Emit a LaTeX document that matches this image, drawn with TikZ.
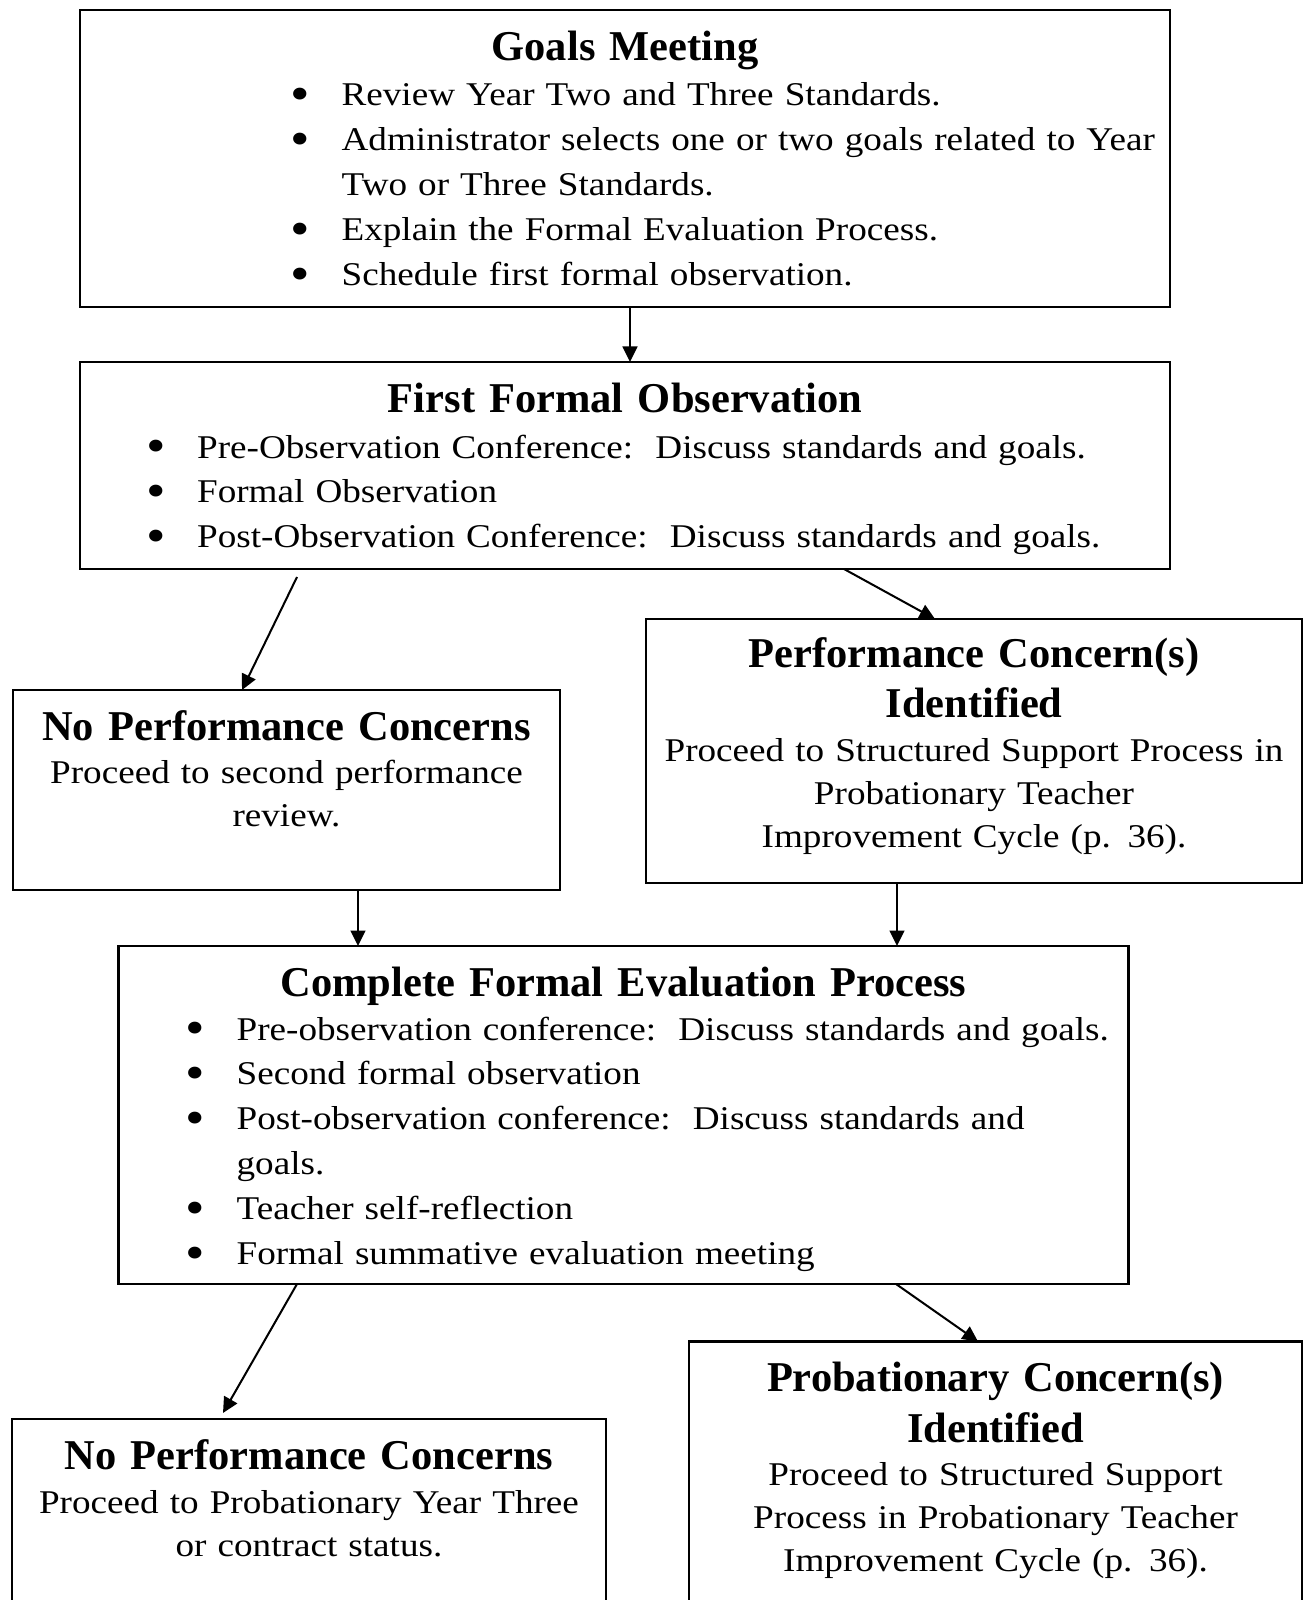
\documentclass[tikz,border=0pt]{standalone}
\usepackage{fontspec}
\setmainfont{Liberation Serif}
\newfontfamily\bodyfont{Liberation Serif}[FakeStretch=1.12]
\usetikzlibrary{arrows.meta,calc,fit}
\newcommand\bul{\leavevmode\llap{\raisebox{-1.5pt}{\fontsize{16}{0}\selectfont\textbullet}\hspace{10.1pt}}}

\begin{document}
\begin{tikzpicture}[x=0.3225pt,y=-0.3225pt,
    box/.style={draw,line width=0.7pt,inner sep=0pt,outer sep=0pt},
    head/.style={font={\fontsize{13.7}{16.3}\selectfont\bfseries},text width=260pt,align=center,anchor=base,inner sep=0pt},
    body/.style={font={\bodyfont\fontsize{10.7}{14}\selectfont},text width=250pt,align=center,anchor=base,inner sep=0pt},
    items/.style={font={\bodyfont\fontsize{10.7}{14.5}\selectfont},text width=300pt,align=left,anchor=base west,inner sep=0pt},
    arr/.style={-{Triangle[length=5pt,width=4.8pt]},line width=0.65pt}]
  \useasboundingbox (0,0) rectangle (1304,1600);
  % boxes
  \node[box,fit={(80,10)(1170,307)}] (goals) {};
  \node[box,fit={(80,362)(1170,569)}] (first) {};
  \node[box,fit={(13,690)(560,890)}] (noperf1) {};
  \node[box,fit={(646,619)(1302,883)}] (perf) {};
  \node[box,fit={(118.5,946)(1128.5,1284)}] (complete) {};
  \node[box,fit={(12,1419)(606,1660)}] (noperf2) {};
  \node[box,fit={(689,1341.5)(1302,1660)}] (prob) {};
  % texts
  \node[head] (goalshead) at ($(goals.north)+(0,51)$) {Goals Meeting};
  \node[items] (goalslist) at ($(goals.north west)+(261,96)$) {\bul Review Year Two and Three Standards.\\
    \bul Administrator selects one or two goals related to Year\\
    Two or Three Standards.\\
    \bul Explain the Formal Evaluation Process.\\
    \bul Schedule first formal observation.};
  \node[head] (firsthead) at ($(first.north)+(0,51)$) {First Formal Observation};
  \node[items] (firstlist) at ($(first.north west)+(116.5,96)$) {\bul Pre-Observation Conference:\ \ Discuss standards and goals.\\
    \bul Formal Observation\\
    \bul Post-Observation Conference:\ \ Discuss standards and goals.};
  \node[head] (noperf1head) at ($(noperf1.north)+(0,50)$) {No Performance Concerns};
  \node[body] (noperf1body) at ($(noperf1.north)+(0,93)$) {Proceed to second performance\\review.};
  \node[head] (perfhead) at ($(perf.north)+(0,48)$) {Performance Concern(s)\\Identified};
  \node[body] (perfbody) at ($(perf.north)+(0,142)$) {Proceed to Structured Support Process in\\Probationary Teacher\\Improvement Cycle (p. 36).};
  \node[head] (completehead) at ($(complete.north)+(0,50)$) {Complete Formal Evaluation Process};
  \node[items] (completelist) at ($(complete.north west)+(117.5,94)$) {\bul Pre-observation conference:\ \ Discuss standards and goals.\\
    \bul Second formal observation\\
    \bul Post-observation conference:\ \ Discuss standards and\\
    goals.\\
    \bul Teacher self-reflection\\
    \bul Formal summative evaluation meeting};
  \node[head] (noperf2head) at ($(noperf2.north)+(0,50)$) {No Performance Concerns};
  \node[body] (noperf2body) at ($(noperf2.north)+(0,94)$) {Proceed to Probationary Year Three\\or contract status.};
  \node[head] (probhead) at ($(prob.north)+(0,50)$) {Probationary Concern(s)\\Identified};
  \node[body] (probbody) at ($(prob.north)+(0,143.5)$) {Proceed to Structured Support\\Process in Probationary Teacher\\Improvement Cycle (p. 36).};
  % arrows
  \draw[arr] ($(goals.south west)+(550,0)$) coordinate (a1) -- (a1 |- first.north);
  \draw[arr] ($(first.south west)+(217,8)$) -- ($(noperf1.north west)+(229,0)$);
  \draw[arr] ($(first.south west)+(764,0)$) -- ($(perf.north west)+(289,0)$);
  \draw[arr] ($(noperf1.south west)+(345,0)$) coordinate (d1) -- (d1 |- complete.north);
  \draw[arr] ($(perf.south west)+(251,0)$) coordinate (e1) -- (e1 |- complete.north);
  \draw[arr] ($(complete.south west)+(178.5,0)$) -- ($(noperf2.north west)+(211,-6)$);
  \draw[arr] ($(complete.south west)+(777.5,0)$) -- ($(prob.north west)+(289,0)$);
\end{tikzpicture}
\end{document}
